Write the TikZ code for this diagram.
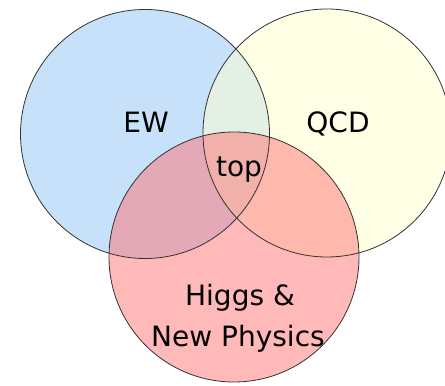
\documentclass[tikz,border=0pt]{standalone}
\usepackage{fontspec}
\setmainfont{DejaVu Sans}
\definecolor{ewblue}{RGB}{200,225,250}
\definecolor{qcdyellow}{RGB}{255,255,205}
\definecolor{higgsred}{RGB}{255,115,115}
\definecolor{edge}{RGB}{50,50,50}
\begin{document}
\begin{tikzpicture}[x=1pt,y=1pt,
  lbl/.style={font=\fontsize{28}{37}\selectfont, text=black, align=center, inner sep=0pt, anchor=base},
  rim/.style={draw=edge, line width=0.8pt}]
\useasboundingbox (0,0) rectangle (445,386);
\fill[ewblue] (145,252) circle (124.5);
\fill[qcdyellow, fill opacity=0.5] (327,253) circle (124);
\fill[higgsred, fill opacity=0.5] (234,129) circle (125);
\draw[rim] (145,252) circle (124.5);
\draw[rim] (327,253) circle (124);
\draw[rim] (234,129) circle (125);
\node[lbl] (ew) at (146,253) {EW};
\node[lbl] (qcd) at (338,253) {QCD};
\node[lbl] (top) at (239,209) {top};
\node[lbl] (higgs) at (240,80) {Higgs \&};
\node[lbl] (np) at (238,39) {New Physics};
\end{tikzpicture}
\end{document}
